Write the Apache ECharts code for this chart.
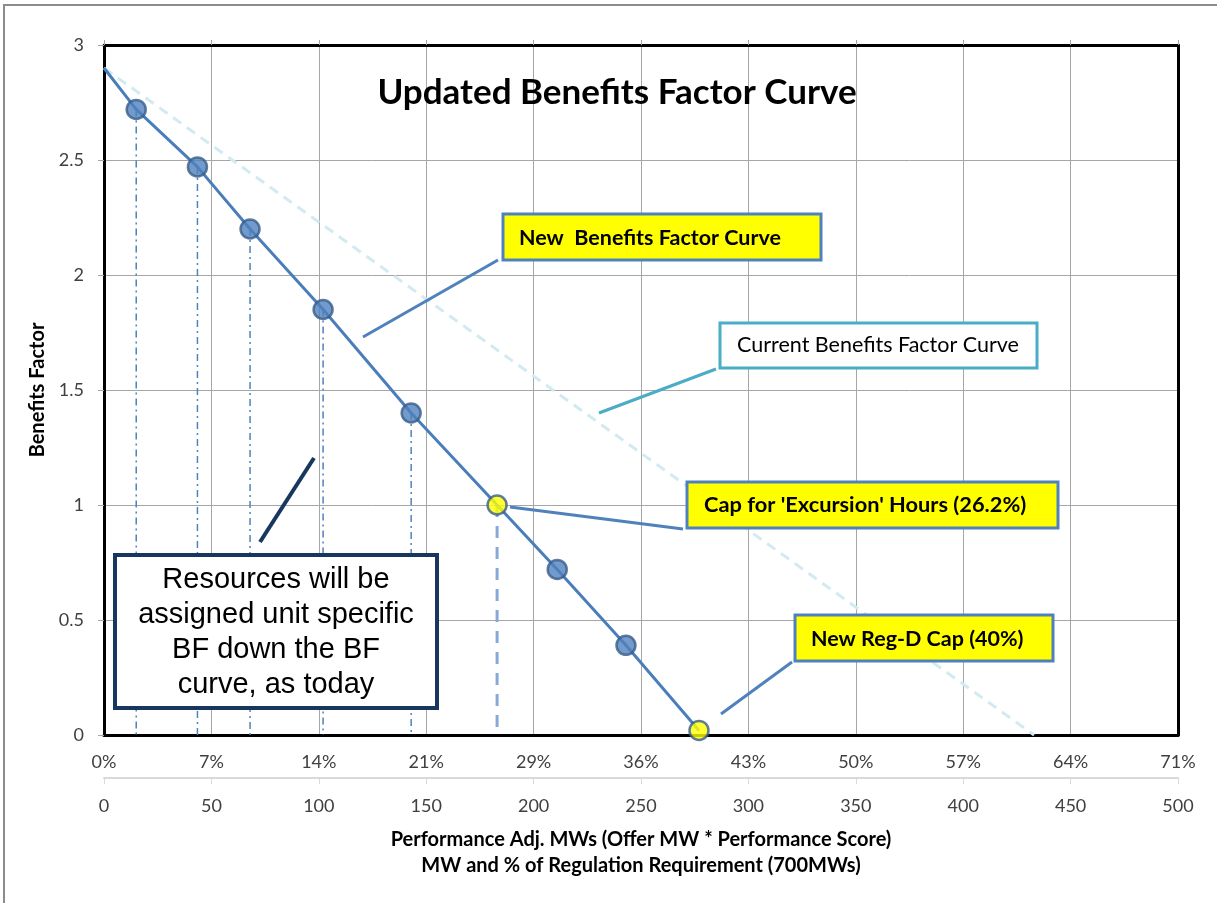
<!DOCTYPE html>
<html>
<head>
<meta charset="utf-8">
<title>Updated Benefits Factor Curve</title>
<script src="https://cdn.jsdelivr.net/npm/echarts@6/dist/echarts.min.js"></script>
<style>
  html, body { margin: 0; padding: 0; background: #fff; }
  #chart { width: 1217px; height: 903px; }
</style>
</head>
<body>
<div id="chart"></div>
<script>
// MW on x, benefits factor on y
var curveStart = [0, 2.9];
var pointX = [15, 43.5, 68, 102, 143, 183, 211, 243, 277];
var pointY = [2.72, 2.47, 2.2, 1.85, 1.4, 1.0, 0.72, 0.39, 0.02];
var capPoints = [5, 8];        // yellow markers (26.2% and 40% caps)
var dashDotDrops = [0, 1, 2, 3, 4];
var dashedDrops = [5];

var currentX = [0, 433];
var currentY = [2.9, 0];

var mwTicks = ['0', '50', '100', '150', '200', '250', '300', '350', '400', '450', '500'];
var pctTicks = ['0%', '7%', '14%', '21%', '29%', '36%', '43%', '50%', '57%', '64%', '71%'];
var yTicks = ['0', '0.5', '1', '1.5', '2', '2.5', '3'];

var FONT = 'Lato';
var LABEL_COLOR = '#404040';
var GRID_GRAY = '#a6a6a6';

var chart = echarts.init(document.getElementById('chart'));

var series = [];

// current curve (light dashed)
series.push({
  type: 'line',
  data: currentX.map(function (x, i) { return [x, currentY[i]]; }),
  symbol: 'none',
  lineStyle: { color: '#d2eaf1', width: 3, type: [10, 7] },
  z: 1
});

// drop lines from points to the axis
dashDotDrops.forEach(function (i) {
  series.push({
    type: 'line',
    data: [[pointX[i], pointY[i]], [pointX[i], 0]],
    symbol: 'none',
    lineStyle: { color: '#4f81bd', width: 1.5, type: [7, 4, 2, 4] },
    z: 2
  });
});
dashedDrops.forEach(function (i) {
  series.push({
    type: 'line',
    data: [[pointX[i], pointY[i]], [pointX[i], 0]],
    symbol: 'none',
    lineStyle: { color: '#86a9d6', width: 3, type: [12, 9] },
    z: 2
  });
});

// new benefits factor curve
series.push({
  type: 'line',
  data: [curveStart].concat(pointX.map(function (x, i) { return [x, pointY[i]]; })),
  showSymbol: false,
  symbol: 'none',
  lineStyle: { color: '#4a7ebb', width: 3 },
  z: 3
});

series.push({
  type: 'scatter',
  data: pointX.map(function (x, i) {
    var cap = capPoints.indexOf(i) >= 0;
    return {
      value: [x, pointY[i]],
      itemStyle: { color: cap ? '#ffff00' : '#4f81bd' }
    };
  }),
  symbol: 'circle',
  symbolSize: 19,
  itemStyle: { borderColor: '#385d8a', borderWidth: 2.5 },
  z: 4
});

function box(x, y, w, h, fill, stroke, lw) {
  return {
    type: 'rect',
    shape: { x: x, y: y, width: w, height: h },
    style: { fill: fill, stroke: stroke, lineWidth: lw },
    z: 100
  };
}
function label(x, y, text, font, align) {
  return {
    type: 'text',
    x: x, y: y,
    style: {
      text: text, font: font, fill: '#000',
      textAlign: align || 'left', textVerticalAlign: 'middle'
    },
    z: 101
  };
}
function connector(x1, y1, x2, y2, color, lw) {
  return {
    type: 'line',
    shape: { x1: x1, y1: y1, x2: x2, y2: y2 },
    style: { stroke: color, lineWidth: lw },
    z: 100
  };
}

var option = {
  animation: false,
  backgroundColor: '#fff',
  grid: { left: 104, top: 45, right: 39, bottom: 168 },
  xAxis: [
    {
      type: 'value', min: 0, max: 500, interval: 50, position: 'bottom',
      axisLine: { show: true, onZero: false, lineStyle: { color: '#000', width: 3 } },
      axisTick: { show: false },
      axisLabel: {
        color: LABEL_COLOR, fontFamily: FONT, fontSize: 18, margin: 18,
        formatter: function (v) { return pctTicks[Math.round(v / 50)]; }
      },
      splitLine: { show: true, showMinLine: false, showMaxLine: false, lineStyle: { color: GRID_GRAY, width: 1 } }
    },
    {
      type: 'value', min: 0, max: 500, interval: 50, position: 'bottom', offset: 43,
      axisLine: { show: true, onZero: false, lineStyle: { color: '#d9d9d9', width: 2 } },
      axisTick: { show: true, length: 6, lineStyle: { color: '#d9d9d9' } },
      axisLabel: {
        color: LABEL_COLOR, fontFamily: FONT, fontSize: 18, margin: 19,
        formatter: function (v) { return mwTicks[Math.round(v / 50)]; }
      },
      splitLine: { show: false },
      name: 'Performance Adj. MWs (Offer MW * Performance Score)\nMW and % of Regulation Requirement (700MWs)',
      nameLocation: 'middle',
      nameGap: 49,
      nameTextStyle: { color: '#000', fontFamily: FONT, fontWeight: 'bold', fontSize: 20, lineHeight: 26 }
    },
    {
      type: 'value', min: 0, max: 500, interval: 50, position: 'top',
      axisLine: { show: true, onZero: false, lineStyle: { color: '#000', width: 3 } },
      axisTick: { show: true, length: 5, lineStyle: { color: GRID_GRAY } },
      axisLabel: { show: false },
      splitLine: { show: false }
    }
  ],
  yAxis: [
    {
      type: 'value', min: 0, max: 3, interval: 0.5, position: 'left',
      axisLine: { show: true, onZero: false, lineStyle: { color: '#000', width: 3 } },
      axisTick: { show: true, length: 6, lineStyle: { color: GRID_GRAY } },
      axisLabel: {
        color: LABEL_COLOR, fontFamily: FONT, fontSize: 18, margin: 20,
        formatter: function (v) { return yTicks[Math.round(v / 0.5)]; }
      },
      splitLine: { show: true, showMinLine: false, showMaxLine: false, lineStyle: { color: GRID_GRAY, width: 1 } },
      name: 'Benefits Factor',
      nameLocation: 'middle',
      nameGap: 56,
      nameTextStyle: { color: '#000', fontFamily: FONT, fontWeight: 'bold', fontSize: 20 }
    },
    {
      type: 'value', min: 0, max: 3, interval: 0.5, position: 'right',
      axisLine: { show: true, onZero: false, lineStyle: { color: '#000', width: 3 } },
      axisTick: { show: false },
      axisLabel: { show: false },
      splitLine: { show: false }
    }
  ],
  series: series,
  graphic: [
    {
      type: 'rect',
      shape: { x: 4, y: 5, width: 1300, height: 1000 },
      style: { fill: 'none', stroke: '#8c8c8c', lineWidth: 2 },
      silent: true
    },
    label(617, 93, 'Updated Benefits Factor Curve', 'bold 35px ' + FONT, 'center'),

    connector(498, 260, 363, 337, '#4f81bd', 3),
    box(503, 214, 318, 46, '#ffff00', '#4f81bd', 3),
    label(519, 238, 'New  Benefits Factor Curve', 'bold 21.5px ' + FONT),

    connector(716, 369, 599, 413, '#4bacc6', 3),
    box(720, 323, 317, 45, '#fff', '#4bacc6', 3),
    label(878, 345, 'Current Benefits Factor Curve', '21.5px ' + FONT, 'center'),

    connector(510, 507, 683, 529, '#4f81bd', 3),
    box(687, 482, 371, 46, '#ffff00', '#4f81bd', 3),
    label(704, 505, "Cap for 'Excursion' Hours (26.2%)", 'bold 21.8px ' + FONT),

    connector(792, 662, 721, 714, '#4f81bd', 3),
    box(795, 615, 258, 46, '#ffff00', '#4f81bd', 3),
    label(811, 639, 'New Reg-D Cap (40%)', 'bold 21.5px ' + FONT),

    connector(314, 458, 260, 542, '#17375e', 4),
    box(115, 555, 322, 153, '#fff', '#17375e', 4),
    {
      type: 'text',
      x: 276, y: 632,
      style: {
        text: 'Resources will be\nassigned unit specific\nBF down the BF\ncurve, as today',
        font: '29px "Liberation Sans"', fill: '#000', lineHeight: 35,
        textAlign: 'center', textVerticalAlign: 'middle'
      },
      z: 101
    }
  ]
};

chart.setOption(option);
</script>
</body>
</html>
